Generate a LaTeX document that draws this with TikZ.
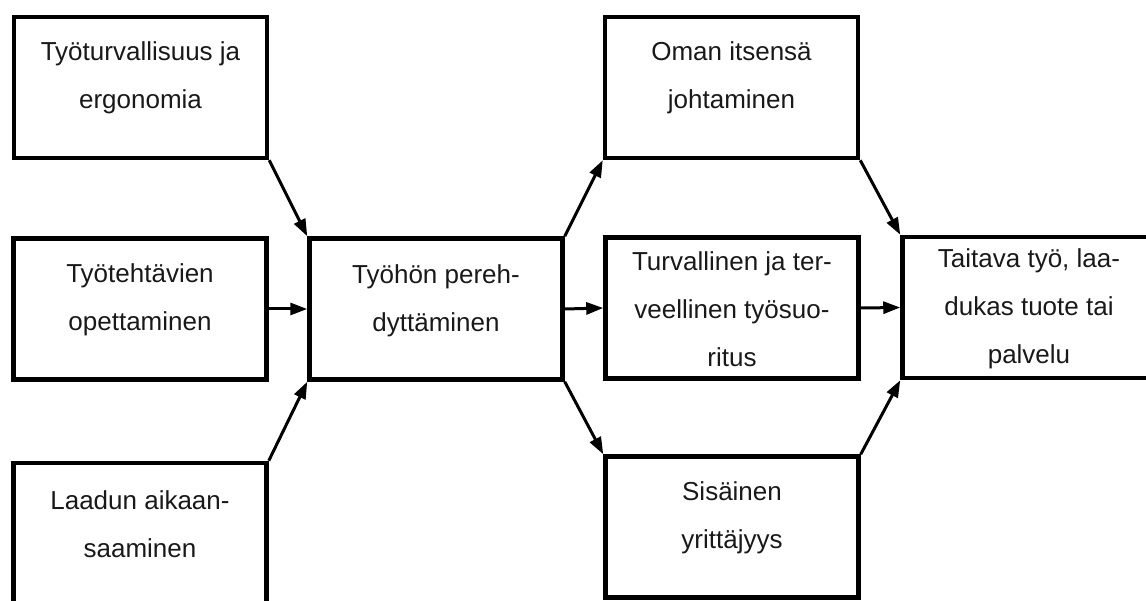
\documentclass[tikz,border=0pt]{standalone}
\usepackage{fontspec}
\setmainfont{Liberation Sans}
\usetikzlibrary{arrows.meta}
\begin{document}
\begin{tikzpicture}[x=1pt,y=-1pt,
  box/.style={draw=black,line width=4.5pt,minimum width=253pt,minimum height=141pt,inner sep=0pt},
  txt/.style={align=center,font=\fontsize{26}{48}\selectfont,text=black!90,inner sep=0pt},
  conn/.style={line width=3pt,-{Triangle[length=17pt,width=12pt]}}]
\useasboundingbox (0,0) rectangle (1146,601);
% boxes
\node[box] (b1) at (140.5,87.5) {};
\node[box] (b2) at (140,309) {};
\node[box] (b3) at (140,533.5) {};
\node[box] (c) at (436,309) {};
\node[box] (o) at (731.5,87.5) {};
\node[box] (t) at (732,308) {};
\node[box] (s) at (732,527) {};
\node[box] (r) at (1029,307.5) {};
% texts
\node[txt] (b1t) at ([yshift=9.5pt]b1.center) {Työturvallisuus ja\\ergonomia};
\node[txt] (b2t) at ([yshift=9pt]b2.center) {Työtehtävien\\opettaminen};
\node[txt] (b3t) at ([yshift=9.5pt]b3.center) {Laadun aikaan-\\saaminen};
\node[txt] (ct) at ([yshift=8pt]c.center) {Työhön pereh-\\dyttäminen};
\node[txt] (ot) at ([yshift=9.5pt]o.center) {Oman itsensä\\johtaminen};
\node[txt] (tt) at ([yshift=-1pt]t.center) {Turvallinen ja ter-\\veellinen työsuo-\\ritus};
\node[txt] (st) at ([yshift=9pt]s.center) {Sisäinen\\yrittäjyys};
\node[txt] (rt) at ([yshift=-1pt]r.center) {Taitava työ, laa-\\dukas tuote tai\\palvelu};
% connectors
\draw[conn] (b1.south east) -- (c.north west);
\draw[conn] (b2.east) -- (c.west);
\draw[conn] (b3.north east) -- (c.south west);
\draw[conn] (c.north east) -- (o.south west);
\draw[conn] (c.east) -- (t.west);
\draw[conn] (c.south east) -- (s.north west);
\draw[conn] (o.south east) -- (r.north west);
\draw[conn] (t.east) -- (r.west);
\draw[conn] (s.north east) -- (r.south west);
\end{tikzpicture}
\end{document}
